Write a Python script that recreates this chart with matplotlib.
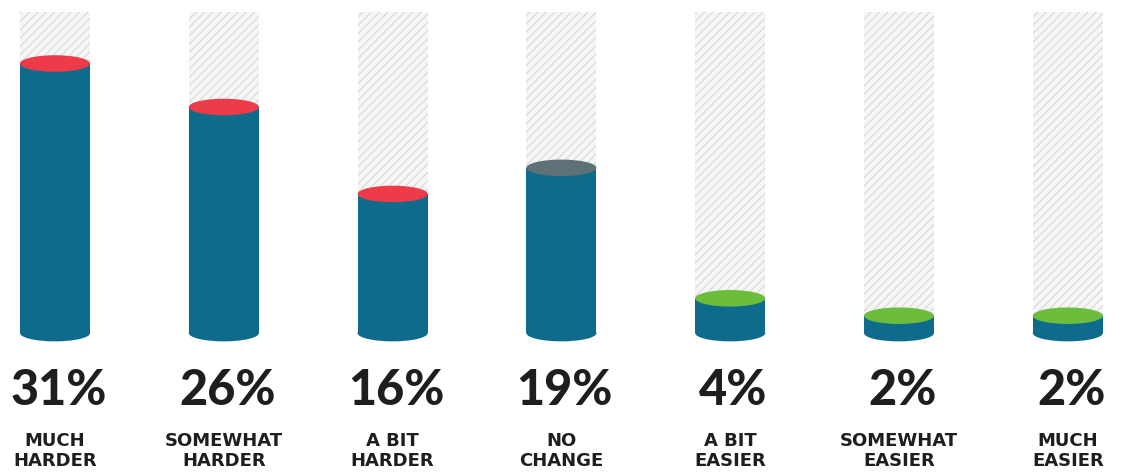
import numpy as np
import matplotlib.pyplot as plt
from matplotlib.patches import Rectangle, Ellipse

# survey answers
cats = ['MUCH\nHARDER', 'SOMEWHAT\nHARDER', 'A BIT\nHARDER', 'NO\nCHANGE',
        'A BIT\nEASIER', 'SOMEWHAT\nEASIER', 'MUCH\nEASIER']
vals = [31, 26, 16, 19, 4, 2, 2]
tops = ['#ee3b4a', '#ee3b4a', '#ee3b4a', '#5d7176', '#6cbd3c', '#6cbd3c', '#6cbd3c']

body = '#0e6b8b'
full = 36.9      # height of the hatched tube
bw = 0.415       # tube width in x units
eh = 1.9         # ellipse height in value units

plt.rcParams['hatch.linewidth'] = 0.7

fig = plt.figure(figsize=(11.24, 4.74), dpi=100)
ax = fig.add_axes([0, 0, 1, 1])
ax.set_xlim(-0.326, 6.333)
ax.set_ylim(-16.2, 38.3)
ax.axis('off')

x = np.arange(len(vals))
for i, v in enumerate(vals):
    # hatched background tube
    ax.add_patch(Rectangle((x[i] - bw/2, 0), bw, full, facecolor='#f6f6f6',
                           edgecolor='#d4d4d4', hatch='////', lw=0, zorder=1))
    # cylinder: bottom cap, body, coloured top
    ax.add_patch(Ellipse((x[i], 0), bw, eh, facecolor=body, lw=0, zorder=2))
    ax.add_patch(Rectangle((x[i] - bw/2, 0), bw, v, facecolor=body, lw=0, zorder=2))
    ax.add_patch(Ellipse((x[i], v), bw, eh, facecolor=tops[i], lw=0, zorder=3))

    ax.text(x[i] + 0.02, -6.6, f'{v}%', ha='center', va='center', fontsize=35,
            family='Lato', fontweight='black', color='#1e1e1e')
    ax.text(x[i], -13.6, cats[i], ha='center', va='center', fontsize=13,
            family='DejaVu Sans', fontweight='bold', color='#1e1e1e',
            linespacing=1.15)

fig.savefig('out.png', dpi=100)
